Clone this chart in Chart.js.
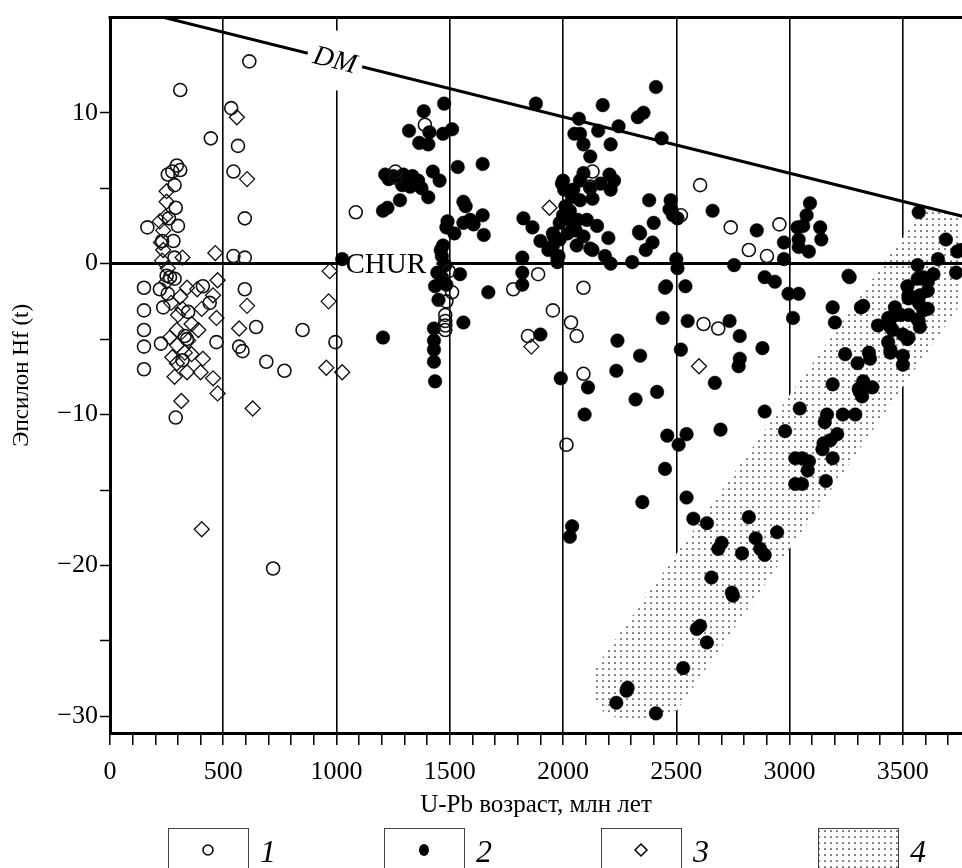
<!DOCTYPE html>
<html>
<head>
<meta charset="utf-8">
<script src="https://cdn.jsdelivr.net/npm/chart.js@4.4.0/dist/chart.umd.min.js"></script>
<style>
  html, body { margin: 0; padding: 0; background: #fff; }
  #wrap { width: 962px; height: 868px; }
</style>
</head>
<body>
<div id="wrap"><canvas id="myChart" width="962" height="868"></canvas></div>
<script>
// axis ticks
const xTicks = [0,100,200,300,400,500,600,700,800,900,1000,1100,1200,1300,1400,1500,1600,1700,1800,1900,
  2000,2100,2200,2300,2400,2500,2600,2700,2800,2900,3000,3100,3200,3300,3400,3500,3600,3700];
const yTicks = [-30, -25, -20, -15, -10, -5, 0, 5, 10];
const legendLabels = ['1', '2', '3', '4'];

// 1 - open circles
const age1 = [615,310,445,565,535,545,595,545,595,165,295,275,255,310,285,290,260,300,230,280,285,250,265,285,150,220,255,410,595,440,
  345,235,150,150,330,340,470,645,225,150,570,585,850,995,690,770,320,150,290,720,1085,1390,1260,1260,1510,1485,1480,1480,1480,1480,
  1495,1890,1780,2090,1955,2035,2060,1845,2090,2015,2130,2120,2605,2520,2740,2955,2820,2900,2620,2685];
const eps1 = [13.4,11.5,8.3,7.8,10.3,6.1,3.0,0.5,0.4,2.4,6.5,6.1,5.9,6.2,5.2,3.7,3.0,2.5,1.5,1.5,0.4,-0.8,-0.9,-1.0,-1.6,-1.7,-2.0,-1.5,-1.7,-2.6,
  -3.2,-2.9,-3.1,-4.4,-4.8,-5.0,-5.2,-4.2,-5.3,-5.5,-5.5,-5.8,-4.4,-5.2,-6.5,-7.1,-6.4,-7.0,-10.2,-20.2,3.4,9.2,6.1,5.7,-1.9,-2.5,-3.4,-3.8,-4.1,-4.4,
  -0.5,-0.7,-1.7,-1.6,-3.1,-3.9,-4.8,-4.8,-7.3,-12.0,6.1,5.1,5.2,3.2,2.4,2.6,0.9,0.5,-4.0,-4.3];

// 2 - filled circles
const age2 = [1475,1385,1320,1410,1365,1405,1510,1470,1535,1645,1425,1250,1295,1335,1360,1290,1325,1375,1455,1405,1280,1225,1205,1215,1230,
  1560,1570,1645,1590,1605,1560,1490,1485,1520,1650,1025,1205,
  1465,1480,1445,1465,1435,1485,1450,1545,1670,1560,1430,1430,1430,1430,1435,1460,1470,
  1880,1825,1865,1900,1935,1955,1985,1995,2005,1820,1820,1820,1900,1975,1990,2110,2095,2040,2030,
  2175,2330,2355,2410,2070,2050,2075,2155,2245,2090,2210,2435,2120,
  2000,2040,2065,2105,2020,2055,1985,1955,1980,1975,2090,2120,1960,2000,2090,2075,2045,2120,2040,2075,2165,2205,2225,2130,2210,
  2200,2130,2185,2210,2305,2380,2400,2335,2395,2365,2475,2485,2500,2480,2505,2470,2340,2010,2030,2060,2150,
  2450,2440,2240,2340,2235,2505,2455,2540,2550,2520,2415,2320,2460,2545,2510,2450,2350,2545,2575,2635,2670,2695,
  2660,2855,2755,2975,2975,3090,3075,3035,3060,3135,3140,3040,3040,3085,2890,2935,2995,3040,3015,2735,2780,2880,2780,2775,3265,
  2890,2980,3045,3190,2820,2945,2850,2700,2685,2790,2870,2890,2655,2750,2745,2590,2605,2635,2530,2285,2280,2235,2410,3025,3025,
  3305,3320,3365,3165,3235,3290,3155,3210,3180,3150,3145,3055,3085,3080,3190,3055,3160,3190,3325,3200,3245,3300,3350,3355,3325,3310,
  3465,3455,3390,3435,3445,3500,3500,3445,3500,3520,3520,3525,3565,3565,3590,3635,3610,3575,3590,3565,3525,3575,3525,3570,3690,3655,
  3735,3740,3610,3525,3570,3610,3490,3570,3435,3455,3445,3315,3260,3755];
const eps2 = [10.6,10.1,8.8,8.7,8.0,7.9,8.9,8.6,6.4,6.6,6.1,5.8,5.9,5.8,5.5,5.2,5.1,5.0,5.5,4.4,4.2,3.7,3.5,5.9,5.6,
  4.1,3.8,3.2,2.9,2.6,2.7,2.8,2.4,2.0,1.9,0.3,-4.9,
  0.5,-0.1,-0.6,-0.9,-1.5,-1.4,-2.4,-0.7,-1.9,-3.9,-4.3,-5.1,-5.7,-6.5,-7.8,0.9,1.2,
  10.6,3.0,2.4,1.5,0.9,2.0,2.7,5.3,4.9,0.4,-0.6,-1.4,-4.7,0.4,-7.6,-8.2,-10.0,-17.4,-18.1,
  10.5,9.7,10.0,11.7,9.6,8.6,8.6,8.8,9.1,7.9,7.9,8.3,7.1,
  3.2,2.7,2.9,2.9,2.0,2.2,1.6,1.2,0.5,0.1,1.8,1.0,1.8,5.5,6.0,5.5,4.9,5.0,4.4,4.2,5.3,5.9,5.5,4.3,4.9,
  1.7,0.9,0.5,0.0,0.1,4.2,2.7,2.1,1.4,0.9,4.2,3.2,0.3,3.5,3.0,3.6,2.0,3.8,3.5,1.2,2.5,
  -1.6,-3.6,-5.1,-6.1,-7.1,-0.3,-1.5,-1.5,-3.8,-5.7,-8.5,-9.0,-11.4,-11.3,-12.0,-13.6,-15.8,-15.5,-16.9,-17.2,-7.9,-11.0,
  3.5,2.2,-0.1,1.4,0.3,4.0,3.2,2.4,2.5,2.4,1.6,1.6,1.1,0.8,-0.9,-1.2,-2.0,-2.0,-3.6,-3.8,-4.8,-5.6,-6.3,-6.8,-0.9,
  -9.8,-11.1,-9.6,-8.0,-16.8,-17.8,-18.2,-18.5,-18.9,-19.2,-18.9,-19.3,-20.8,-22.0,-21.8,-24.2,-24.0,-25.1,-26.8,-28.1,-28.3,-29.1,-29.8,-14.6,-12.9,
  -8.3,-8.8,-8.2,-10.0,-10.0,-10.0,-10.5,-11.3,-11.7,-11.9,-12.3,-12.9,-13.1,-13.7,-12.9,-14.6,-14.4,-2.9,-2.8,-3.9,-6.0,-6.6,-5.9,-6.3,-7.8,-8.5,
  -2.9,-3.5,-4.1,-5.2,-5.9,-6.1,-6.7,-4.2,-4.7,-5.0,-1.5,-2.1,-1.0,-0.1,-0.9,-0.7,-1.8,-2.1,-3.1,-3.7,-3.4,-4.2,-4.9,3.4,1.6,0.3,
  -0.6,0.8,-1.2,-2.3,-2.6,-3.0,-3.4,-3.8,-3.6,-4.4,-5.7,-2.9,-0.8,0.9];

// 3 - open diamonds
const age3 = [605,250,250,245,235,225,235,320,465,230,475,340,385,310,455,605,405,470,300,295,390,570,345,295,410,295,340,400,285,455,
  475,315,630,970,965,955,1025,405,560,1940,1860,2600,255,270,320,360,265,330,360,275,250,220];
const eps3 = [5.6,4.8,4.1,3.1,2.2,1.4,0.9,0.4,0.7,0.2,-1.1,-1.6,-1.7,-2.2,-2.1,-2.8,-3.0,-3.6,-3.4,-4.4,-4.4,-4.3,-5.1,-5.4,-6.3,-6.6,-7.2,-7.2,-7.5,-7.6,
  -8.6,-9.1,-9.6,-0.5,-2.5,-6.9,-7.2,-17.6,9.7,3.7,-5.5,-6.8,-0.3,-2.6,-3.0,-4.0,-4.9,-5.9,-6.0,-6.2,-1.2,2.8];

// 4 - stippled field outline
const bandAge = [2141, 3594, 3800, 3800, 2503, 2406, 2274, 2177, 2132];
const bandEps = [-26.8, 3.76, 3.0, -1.73, -29.6, -30.1, -30.35, -29.7, -28.6];

// reference lines
const dmAge = [0, 3800];
const dmEps = [17.2, 3.0];
const churAge = [0, 3800];
const churEps = [0, 0];

function pts(xs, ys) {
  return xs.map(function (x, i) { return { x: x, y: ys[i] }; });
}

function makeDots() {
  var c = document.createElement('canvas');
  c.width = 6; c.height = 6;
  var g = c.getContext('2d');
  g.fillStyle = '#fff';
  g.fillRect(0, 0, 6, 6);
  g.fillStyle = '#111';
  g.beginPath();
  g.arc(3, 3, 0.85, 0, Math.PI * 2);
  g.fill();
  return g.createPattern(c, 'repeat');
}
const dots = makeDots();

Chart.defaults.font.family = '"Liberation Serif", "DejaVu Serif", serif';
Chart.defaults.color = '#000';

const labelsPlugin = {
  id: 'refLabels',
  afterDatasetDraw: function (chart, args) {
    if (chart.data.datasets[args.index].label !== 'CHUR') return;
    var ctx = chart.ctx, xs = chart.scales.x, ys = chart.scales.y;
    // DM label along the line
    var x0 = xs.getPixelForValue(dmAge[0]), y0 = ys.getPixelForValue(dmEps[0]);
    var x1 = xs.getPixelForValue(dmAge[1]), y1 = ys.getPixelForValue(dmEps[1]);
    var ang = Math.atan2(y1 - y0, x1 - x0);
    var ax = 993;
    var ay = dmEps[0] + (dmEps[1] - dmEps[0]) * (ax - dmAge[0]) / (dmAge[1] - dmAge[0]);
    var px = xs.getPixelForValue(ax), py = ys.getPixelForValue(ay);
    ctx.save();
    ctx.translate(px, py);
    ctx.rotate(ang);
    ctx.fillStyle = '#fff';
    ctx.fillRect(-28, -29, 56, 58);
    ctx.fillStyle = '#000';
    ctx.font = 'italic 28px "Liberation Serif"';
    ctx.textAlign = 'center';
    ctx.textBaseline = 'middle';
    ctx.fillText('DM', 0, 1);
    ctx.restore();
    // CHUR label on the zero line
    var cx = xs.getPixelForValue(1035), cy = ys.getPixelForValue(0);
    ctx.save();
    ctx.fillStyle = '#fff';
    ctx.fillRect(cx, cy - 15, 92, 30);
    ctx.fillStyle = '#000';
    ctx.font = '29px "Liberation Serif"';
    ctx.textAlign = 'left';
    ctx.textBaseline = 'middle';
    ctx.fillText('CHUR', cx + 1, cy + 2);
    ctx.restore();
  }
};

const framePlugin = {
  id: 'frame',
  afterDraw: function (chart) {
    var ctx = chart.ctx, a = chart.chartArea;
    ctx.save();
    ctx.strokeStyle = '#000';
    ctx.lineWidth = 3;
    ctx.beginPath();
    ctx.moveTo(a.left - 1.5, a.top);
    ctx.lineTo(a.right, a.top);
    ctx.stroke();
    ctx.restore();

    // legend boxes under the axis
    var boxX = [168, 384, 601, 818];
    ctx.save();
    for (var i = 0; i < 4; i++) {
      var bx = boxX[i], by = 828, bw = 80, bh = 60;
      if (i === 3) {
        ctx.fillStyle = dots;
        ctx.fillRect(bx, by, bw, bh);
      }
      ctx.strokeStyle = '#444';
      ctx.lineWidth = 1;
      ctx.strokeRect(bx + 0.5, by + 0.5, bw, bh);
      var mx = bx + 40, my = 850;
      ctx.lineWidth = 1.5;
      ctx.strokeStyle = '#000';
      ctx.fillStyle = '#000';
      if (i === 0) {
        ctx.beginPath(); ctx.arc(mx, my, 5, 0, Math.PI * 2); ctx.stroke();
      } else if (i === 1) {
        ctx.beginPath(); ctx.ellipse(mx, my, 5, 6, 0, 0, Math.PI * 2); ctx.fill();
      } else if (i === 2) {
        ctx.beginPath();
        ctx.moveTo(mx, my - 6); ctx.lineTo(mx + 6, my); ctx.lineTo(mx, my + 6); ctx.lineTo(mx - 6, my);
        ctx.closePath(); ctx.stroke();
      }
      ctx.font = 'italic 32px "Liberation Serif"';
      ctx.textAlign = 'left';
      ctx.textBaseline = 'alphabetic';
      ctx.fillText(legendLabels[i], bx + 92, 862);
    }
    ctx.restore();
  }
};

var ctx = document.getElementById('myChart').getContext('2d');
var myChart = new Chart(ctx, {
  type: 'scatter',
  data: {
    datasets: [
      {
        label: 'band',
        data: pts(bandAge, bandEps),
        showLine: true,
        fill: 'shape',
        backgroundColor: dots,
        borderWidth: 0,
        borderColor: 'rgba(0,0,0,0)',
        pointRadius: 0,
        order: 10
      },
      {
        label: 'DM',
        data: pts(dmAge, dmEps),
        showLine: true,
        borderColor: '#000',
        borderWidth: 3,
        pointRadius: 0,
        order: 8
      },
      {
        label: 'CHUR',
        data: pts(churAge, churEps),
        showLine: true,
        borderColor: '#000',
        borderWidth: 3,
        pointRadius: 0,
        order: 7
      },
      {
        label: '3',
        data: pts(age3, eps3),
        pointStyle: 'rectRot',
        pointRadius: 7.5,
        backgroundColor: 'rgba(0,0,0,0)',
        borderColor: '#111',
        borderWidth: 1.3,
        order: 3
      },
      {
        label: '2',
        data: pts(age2, eps2),
        pointStyle: 'circle',
        pointRadius: 6.8,
        backgroundColor: '#000',
        borderColor: '#000',
        borderWidth: 0.5,
        order: 2
      },
      {
        label: '1',
        data: pts(age1, eps1),
        pointStyle: 'circle',
        pointRadius: 6.5,
        backgroundColor: 'rgba(0,0,0,0)',
        borderColor: '#111',
        borderWidth: 1.6,
        order: 1
      }
    ]
  },
  options: {
    responsive: false,
    animation: false,
    events: [],
    layout: { autoPadding: false, padding: { top: 14, right: 0, left: 0, bottom: 0 } },
    plugins: {
      legend: { display: false },
      tooltip: { enabled: false }
    },
    scales: {
      x: {
        type: 'linear',
        min: 0,
        max: 3761,
        afterBuildTicks: function (s) { s.ticks = xTicks.map(function (v) { return { value: v }; }); },
        afterFit: function (s) { s.height = 135; },
        ticks: {
          autoSkip: false,
          maxRotation: 0,
          minRotation: 0,
          padding: 12,
          font: { size: 26 },
          color: '#000',
          callback: function (v) { return v % 500 === 0 ? String(v) : ''; }
        },
        grid: {
          drawOnChartArea: true,
          color: function (c) { return (c.tick && c.tick.value % 500 === 0) ? '#000' : 'rgba(0,0,0,0)'; },
          lineWidth: 1.6,
          tickColor: '#000',
          tickWidth: 1.5,
          tickLength: 12
        },
        border: { color: '#000', width: 3 },
        title: {
          display: true,
          text: 'U-Pb возраст, млн лет',
          font: { size: 25 },
          color: '#000',
          padding: { top: 0, bottom: 48 }
        }
      },
      y: {
        type: 'linear',
        min: -31.1,
        max: 16.3,
        afterBuildTicks: function (s) { s.ticks = yTicks.map(function (v) { return { value: v }; }); },
        afterFit: function (s) { s.width = 110; },
        ticks: {
          padding: 2,
          font: { size: 26 },
          color: '#000',
          callback: function (v) {
            if (v % 10 !== 0) return '';
            return v < 0 ? '\u2212' + Math.abs(v) : String(v);
          }
        },
        grid: {
          drawOnChartArea: false,
          tickColor: '#000',
          tickWidth: 1.5,
          tickLength: 10
        },
        border: { color: '#000', width: 3 },
        title: {
          display: true,
          text: 'Эпсилон Hf (t)',
          font: { size: 23 },
          color: '#000',
          padding: { top: 8, bottom: 0 }
        }
      }
    }
  },
  plugins: [labelsPlugin, framePlugin]
});
</script>
</body>
</html>
